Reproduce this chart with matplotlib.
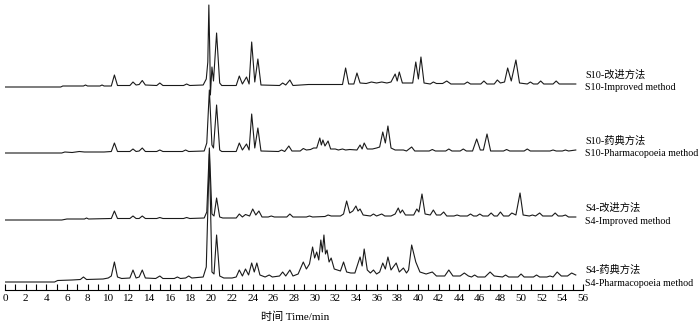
import matplotlib
matplotlib.use('Agg')
import matplotlib.pyplot as plt
from matplotlib.ticker import MultipleLocator

# ── Data: chromatogram vertices (time in min, signal in a.u.) ────────────────
s10_imp_t = [0.0, 5.4, 5.6, 7.6, 7.8, 8.0, 9.2, 9.4, 9.6, 10.3, 10.6, 10.9, 12.1, 12.4, 12.7,
             13.0, 13.3, 13.6, 14.7, 15.0, 15.3, 17.3, 17.6, 17.9, 19.2, 19.5, 19.65, 19.75,
             19.85, 19.9, 20.05, 20.2, 20.5, 20.8, 21.0, 22.4, 22.7, 23.0, 23.4, 23.65, 23.9,
             24.2, 24.5, 24.8, 26.6, 26.9, 27.2, 27.6, 27.9, 29.4, 31.3, 32.7, 33.0, 33.3,
             33.8, 34.1, 34.4, 35.0, 35.5, 36.0, 36.5, 37.0, 37.4, 37.8, 38.0, 38.2, 38.5,
             39.5, 39.8, 40.05, 40.3, 40.6, 41.2, 41.5, 41.8, 42.4, 42.8, 43.2, 44.5, 44.8,
             45.1, 46.1, 46.4, 46.7, 47.4, 47.7, 48.0, 48.4, 48.7, 49.05, 49.5, 49.85, 50.6,
             50.9, 51.2, 51.6, 51.9, 52.2, 53.1, 53.4, 53.7, 55.3]
s10_imp_y = [0, 0, 1, 1, 2, 1, 1, 2, 1, 1, 12, 1.5, 1.5, 5, 2,
             2.5, 6.5, 2, 1.5, 4, 1.5, 1.5, 3, 1.5, 2, 8, 25, 82,
             30, -8, 20, 6, 54, 4, 1.5, 1.5, 11, 3, 10, 3, 45,
             5, 28, 2, 1.5, 4, 2, 7, 1.5, 2.5, 2.5, 2.5, 19, 3,
             3, 14, 4, 3.5, 5, 4, 5, 4, 5, 13, 6, 15, 4,
             4, 25, 8, 30, 4, 3, 5, 3.5, 3.5, 6, 3, 3, 5,
             3, 3, 6, 3, 3, 7, 4, 5, 19, 6, 27, 4, 3,
             5, 3, 3, 6, 3, 3, 6, 3, 3]

s10_pha_t = [0.0, 5.5, 5.8, 6.5, 7.2, 7.7, 9.6, 10.3, 10.6, 10.9, 12.1, 12.4, 12.7, 13.0, 13.3,
             13.6, 14.7, 15.0, 15.3, 17.2, 17.5, 17.8, 19.3, 19.55, 19.8, 20.05, 20.2, 20.5,
             20.8, 21.0, 22.4, 22.7, 23.0, 23.4, 23.65, 23.9, 24.2, 24.5, 24.8, 26.5, 26.8,
             27.1, 27.5, 27.8, 28.6, 28.9, 29.2, 29.6, 29.9, 30.2, 30.5, 30.65, 30.8, 31.0,
             31.3, 31.55, 32.0, 32.3, 32.7, 33.0, 33.4, 34.1, 34.4, 34.6, 34.8, 35.1, 35.6,
             36.0, 36.3, 36.6, 36.85, 37.1, 37.4, 37.8, 38.6, 38.9, 39.4, 39.7, 41.1, 41.4,
             41.7, 42.7, 43.0, 43.3, 44.1, 44.4, 44.7, 45.3, 45.7, 46.05, 46.35, 46.7, 47.05,
             48.3, 48.6, 48.9, 50.3, 50.6, 50.9, 52.8, 53.1, 53.4, 54.0, 54.3, 54.6, 55.3]
s10_pha_y = [0, 0, 1, 0.5, 1.5, 1, 1, 1.5, 10, 1.5, 1.5, 4, 1.5, 2, 5,
             1.5, 1.5, 3, 1.5, 1.5, 3, 1.5, 2, 10, 63, 8, 5, 48,
             3, 1.5, 1.5, 10, 3, 9, 3, 39, 5, 25, 2, 1.5, 3,
             1.5, 7, 2, 2, 4.5, 3, 3.5, 5, 5, 15, 8, 13, 7,
             12, 4, 4, 3, 4, 3, 3.5, 3, 8, 4, 10, 4, 4,
             5, 6, 21, 10, 27, 5, 3, 3, 2, 6, 2, 2, 3.5,
             2, 2, 4, 2, 2, 4, 2, 2, 14, 3, 3, 19, 2,
             2, 3.5, 2, 2, 4, 2, 2, 3, 2, 2, 3, 2, 3]

s4_imp_t = [0.0, 5.5, 6.0, 7.7, 7.9, 8.1, 10.3, 10.6, 10.9, 12.1, 12.4, 12.7, 13.0, 13.3, 13.6,
            14.7, 15.0, 15.3, 17.3, 17.6, 17.9, 19.3, 19.55, 19.8, 20.05, 20.25, 20.5, 20.8,
            21.1, 22.4, 22.7, 23.0, 23.3, 23.7, 24.0, 24.3, 24.6, 24.9, 25.5, 25.8, 26.1,
            27.3, 27.6, 27.9, 29.2, 29.5, 29.8, 31.0, 31.3, 31.6, 32.5, 32.8, 33.1, 33.4,
            33.7, 34.0, 34.2, 34.4, 34.7, 35.4, 35.7, 36.0, 36.5, 36.8, 37.4, 37.8, 38.1,
            38.3, 38.5, 38.8, 39.6, 39.9, 40.1, 40.4, 40.7, 41.2, 41.5, 41.8, 42.2, 42.5,
            42.8, 43.5, 43.8, 44.1, 44.8, 45.1, 45.4, 45.7, 46.0, 46.3, 46.8, 47.1, 47.4,
            47.7, 48.0, 48.3, 48.8, 49.1, 49.5, 49.9, 50.2, 50.8, 51.1, 51.4, 51.8, 52.1,
            53.0, 53.3, 53.6, 54.0, 54.3, 54.6, 55.3]
s4_imp_y = [0, 0, 1, 1, 2, 1, 1.5, 9, 1.5, 1.5, 4, 1.5, 1.5, 4, 1.5,
            1.5, 2.5, 1.5, 1.5, 2.5, 1.5, 2, 8, 72, 6, 4, 22, 3,
            2, 2, 6, 3, 5.5, 4, 11, 5, 9, 3, 3, 4, 3,
            3, 6, 3, 3, 4, 3, 3.5, 5, 4, 4, 6, 19, 7,
            9, 14, 9, 11, 5, 4, 6, 4, 6, 4, 4, 6, 12,
            7, 10, 5, 5, 11, 8, 26, 6, 5, 10, 5, 5, 8,
            4, 4, 5, 4, 4, 6, 4, 4, 6, 4, 4, 7, 4,
            4, 8, 4, 4, 7, 5, 27, 5, 4, 5, 4, 7, 4,
            4, 7, 4, 4, 5, 3, 3]

s4_pha_t = [0.0, 4.8, 5.1, 6.5, 7.3, 7.6, 7.9, 9.5, 10.0, 10.3, 10.6, 10.9, 11.3, 12.1, 12.4,
            12.7, 13.0, 13.3, 13.6, 14.6, 15.0, 15.3, 16.4, 16.7, 17.0, 17.5, 17.8, 18.1,
            19.2, 19.5, 19.8, 20.05, 20.25, 20.5, 20.8, 21.2, 22.0, 22.4, 22.7, 23.0, 23.3,
            23.6, 23.9, 24.15, 24.4, 24.7, 25.2, 25.6, 25.9, 26.6, 26.9, 27.2, 27.6, 27.9,
            28.4, 28.9, 29.2, 29.5, 29.8, 30.0, 30.2, 30.4, 30.6, 30.75, 30.9, 31.05, 31.2,
            31.4, 31.6, 31.9, 32.2, 32.5, 32.8, 33.1, 33.5, 33.9, 34.4, 34.6, 34.8, 35.1,
            35.4, 35.7, 36.0, 36.3, 36.6, 36.85, 37.1, 37.4, 37.9, 38.2, 38.6, 38.9, 39.1,
            39.4, 39.8, 40.2, 40.8, 41.4, 41.8, 42.6, 43.0, 43.4, 44.1, 44.5, 44.9, 45.2,
            45.5, 45.8, 46.5, 47.0, 47.4, 48.2, 48.5, 48.8, 49.7, 50.0, 50.3, 51.2, 51.5,
            51.8, 52.5, 52.8, 53.1, 53.5, 53.9, 54.5, 54.9, 55.3]
s4_pha_y = [0, 0, 1.5, 2, 2.5, 5, 2.5, 3, 4, 6, 20, 5, 3.5, 4, 12,
            4, 5, 12, 4, 3.5, 6, 3.5, 3.5, 5, 3.5, 4, 6, 4,
            5, 15, 128, 10, 8, 47, 6, 4, 4, 5, 12, 6, 13,
            7, 19, 10, 19, 7, 5, 7, 5, 6, 10, 6, 12, 6,
            8, 20, 13, 18, 35, 24, 30, 22, 42, 30, 47, 28, 32,
            20, 24, 13, 12, 11, 20, 10, 9, 9, 25, 16, 33, 12,
            9, 12, 8, 10, 19, 13, 25, 12, 19, 10, 14, 9, 12,
            37, 20, 10, 8, 10, 6, 6, 12, 6, 6, 9, 6, 5,
            7, 5, 5, 10, 6, 5, 7, 5, 5, 8, 5, 5, 7,
            5, 5, 6, 5, 10, 6, 6, 9, 7]

trace_cn = ['S10-改进方法', 'S10-药典方法', 'S4-改进方法', 'S4-药典方法']
trace_en = ['S10-Improved method', 'S10-Pharmacopoeia method',
            'S4-Improved method', 'S4-Pharmacopoeia method']
traces = [(s10_imp_t, s10_imp_y), (s10_pha_t, s10_pha_y),
          (s4_imp_t, s4_imp_y), (s4_pha_t, s4_pha_y)]

# vertical stacking (layout only)
offsets = [203, 137, 70, 8]

FONT = ['Liberation Serif', 'Noto Sans CJK SC', 'DejaVu Sans']
plt.rcParams['font.family'] = FONT

fig = plt.figure(figsize=(7.0, 3.23), dpi=100)
ax = fig.add_axes([5 / 700, 33 / 323, 578 / 700, 290 / 323])

for (t, y), off, cn, en in zip(traces, offsets, trace_cn, trace_en):
    ax.plot(t, [v + off for v in y], color='#1a1a1a', lw=0.8)
    ax.text(56.2, off + 12, cn, fontsize=7.4, ha='left', va='center', clip_on=False)
    ax.text(56.2, off - 1, en, fontsize=7.2, ha='left', va='center', clip_on=False)

ax.set_xlim(0, 56)
ax.set_ylim(0, 290)
ax.xaxis.set_major_locator(MultipleLocator(2))
ax.xaxis.set_minor_locator(MultipleLocator(1))
ax.tick_params(axis='x', which='both', direction='in', length=4, width=0.8,
               labelsize=8, pad=3, color='black')
ax.set_yticks([])
for side in ['top', 'right', 'left']:
    ax.spines[side].set_visible(False)
ax.spines['bottom'].set_linewidth(0.8)
ax.set_xlabel('时间 Time/min', fontsize=8, labelpad=1)
ax.xaxis.set_label_coords(290 / 578, -22 / 290)

fig.savefig('out.png', dpi=100)
